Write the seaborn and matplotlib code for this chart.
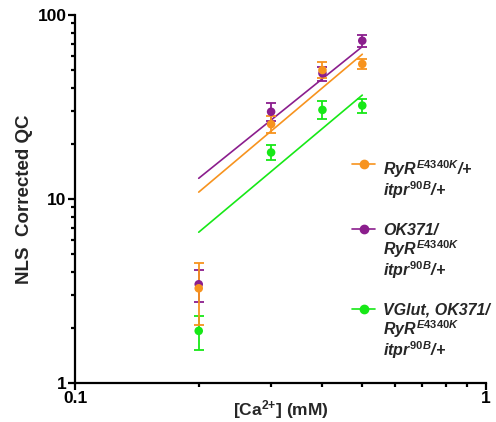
import numpy as np
import pandas as pd
import seaborn as sns
import matplotlib.pyplot as plt
from matplotlib.lines import Line2D
from matplotlib.ticker import FixedLocator, FixedFormatter, LogLocator, NullFormatter

# [Ca2+] (mM) for the measured points
ca = [0.2, 0.3, 0.4, 0.5]

# mean QC and SEM
ryr_qc = [3.27, 25.5, 50.2, 54.2]
ryr_sem = [1.2, 2.7, 5.0, 3.4]
ok_qc = [3.44, 29.8, 48.2, 72.5]
ok_sem = [0.69, 3.3, 4.2, 5.2]
vglut_qc = [1.92, 17.9, 30.5, 32.2]
vglut_sem = [0.4, 1.7, 3.4, 2.9]

# power-law fit lines (end points, straight on log-log)
fit_ca = [0.2, 0.5]
ryr_fit = [10.9, 61.2]
ok_fit = [12.96, 67.3]
vglut_fit = [6.6, 36.7]

labels = ["$RyR^{E4340K}$/+\n$itpr^{90B}$/+",
          "OK371/\n$RyR^{E4340K}$\n$itpr^{90B}$/+",
          "VGlut, OK371/\n$RyR^{E4340K}$\n$itpr^{90B}$/+"]
colors = ["#F7931E", "#8B1E8D", "#17E817"]

sns.set_style("ticks")
plt.rcParams["font.family"] = ["Liberation Sans", "DejaVu Sans"]
plt.rcParams["font.weight"] = "bold"
plt.rcParams["mathtext.fontset"] = "custom"
plt.rcParams["mathtext.it"] = "Liberation Sans:bold:italic"
plt.rcParams["mathtext.rm"] = "Liberation Sans:bold"
plt.rcParams["mathtext.bf"] = "Liberation Sans:bold"
plt.rcParams["mathtext.default"] = "it"

fig = plt.figure(figsize=(4.96, 4.22), dpi=100)
ax = fig.add_axes([75 / 496, 1 - 383 / 422, 411 / 496, 368 / 422])

groups = [(vglut_qc, vglut_sem, vglut_fit, colors[2]),
          (ok_qc, ok_sem, ok_fit, colors[1]),
          (ryr_qc, ryr_sem, ryr_fit, colors[0])]
for qc, sem, fit, c in groups:
    sns.lineplot(x=fit_ca, y=fit, color=c, lw=1.2, ax=ax)
    ax.errorbar(ca, qc, yerr=sem, fmt="none", ecolor=c, elinewidth=1.3,
                capsize=3.5, capthick=1.3)
    sns.scatterplot(x=ca, y=qc, color=c, s=38, edgecolor="none", ax=ax, zorder=3)

ax.set_xscale("log")
ax.set_yscale("log")
ax.set_xlim(0.1, 1)
ax.set_ylim(1, 100)
ax.xaxis.set_major_locator(FixedLocator([0.1, 1]))
ax.xaxis.set_major_formatter(FixedFormatter(["0.1", "1"]))
ax.yaxis.set_major_locator(FixedLocator([1, 10, 100]))
ax.yaxis.set_major_formatter(FixedFormatter(["1", "10", "100"]))
ax.xaxis.set_minor_locator(LogLocator(base=10, subs=np.arange(2, 10)))
ax.yaxis.set_minor_locator(LogLocator(base=10, subs=np.arange(2, 10)))
ax.xaxis.set_minor_formatter(NullFormatter())
ax.yaxis.set_minor_formatter(NullFormatter())

sns.despine(ax=ax)
for s in ["left", "bottom"]:
    ax.spines[s].set_linewidth(1.6)
    ax.spines[s].set_color("black")
ax.tick_params(which="major", length=5, width=1.6, pad=1, labelsize=12.5,
               colors="black")
ax.tick_params(which="minor", length=3, width=1.6, colors="black")
for t in ax.get_xticklabels() + ax.get_yticklabels():
    t.set_fontweight("bold")

ax.set_xlabel("[Ca$^{\\mathbf{2}\\mathbf{+}}$] (mM)", fontsize=12.5, fontweight="bold")
ax.set_ylabel("NLS  Corrected QC", fontsize=13.5, fontweight="bold")
ax.xaxis.set_label_coords(0.5, -0.04)
ax.yaxis.set_label_coords(-0.102, 0.5)

handles = [Line2D([], [], color=c, marker="o", markersize=6, lw=1.2) for c in colors]
leg = ax.legend(handles, labels, loc="upper left",
                bbox_to_anchor=(352 / 496, 1 - 158 / 422),
                bbox_transform=fig.transFigure, frameon=False,
                borderpad=0, borderaxespad=0, handlelength=1.45,
                handletextpad=0.5, labelspacing=1.35,
                prop={"family": "Liberation Sans", "weight": "bold",
                      "style": "italic", "size": 11.5})
# put the marker beside the first line of each label, not the last
for col in leg._legend_handle_box.get_children():
    for item in col.get_children():
        item.align = "top"
for t in leg.get_texts():
    t.set_linespacing(1.0)

fig.savefig("out.png", dpi=100)
